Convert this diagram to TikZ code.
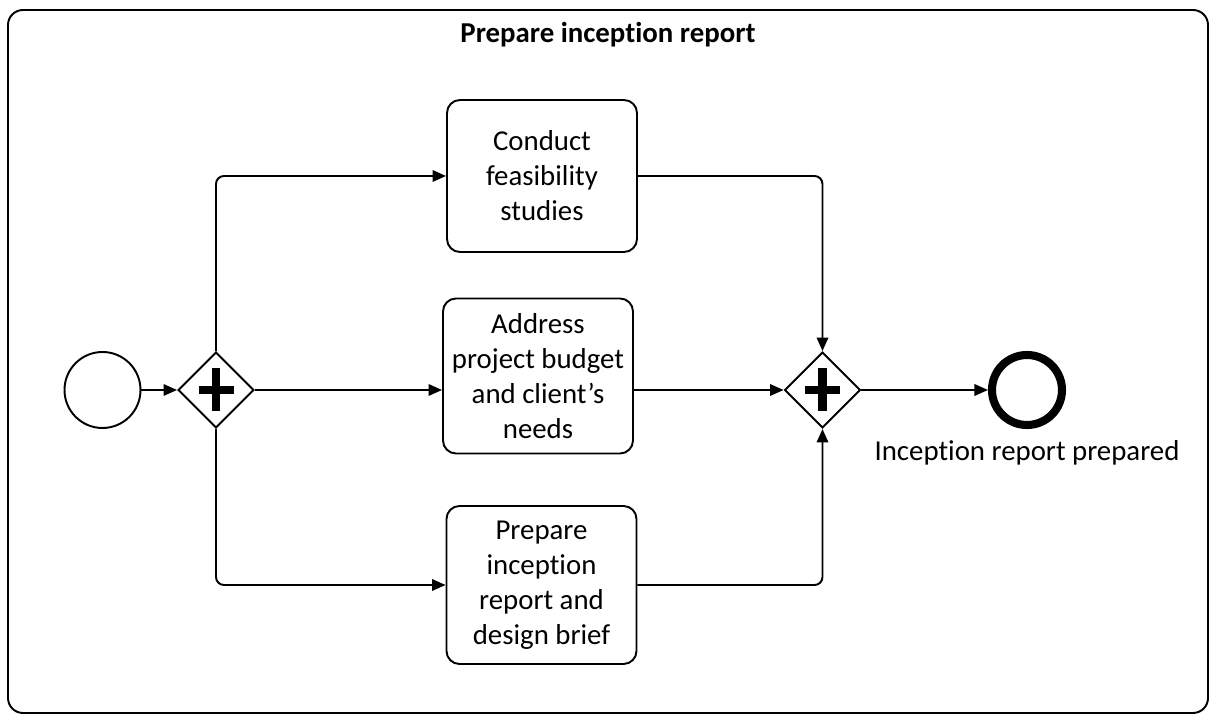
\documentclass[tikz,border=0pt]{standalone}
\usepackage{fontspec}
\setmainfont{Carlito}[Ligatures=NoCommon]
\usetikzlibrary{arrows.meta}
\usetikzlibrary{shapes.geometric}
\usetikzlibrary{positioning}

\tikzset{
  startevent/.style={circle,draw,line width=1.1pt,minimum size=1.52cm,inner sep=0pt},
  endevent/.style={circle,draw,line width=4.6pt,minimum size=1.4cm,inner sep=0pt},
  task/.style={rectangle,rounded corners=0.26cm,draw,line width=1.1pt,
    minimum width=3.8cm,minimum height=3.1cm,align=center,inner sep=2pt},
  andgate/.style={diamond,draw,line width=1.1pt,minimum size=1.52cm,inner sep=0pt,
    path picture={
      \fill ([xshift=-0.35cm,yshift=-0.085cm]path picture bounding box.center) rectangle ++(0.7cm,0.17cm);
      \fill ([xshift=-0.085cm,yshift=-0.43cm]path picture bounding box.center) rectangle ++(0.17cm,0.86cm);
    }},
  flow/.style={line width=1.1pt,rounded corners=0.16cm,
    -{Triangle[length=0.27cm,width=0.23cm]}}
}

\begin{document}
\begin{tikzpicture}[font=\fontsize{16.4}{19.9}\selectfont]
\useasboundingbox (0,0) rectangle (24.32,-14.3);
% sub-process frame
\draw[line width=1.1pt,rounded corners=0.3cm] (0.16,-0.2) rectangle (24.16,-14.26);
\node (title) at (12.16,-0.7) {\bfseries Prepare inception report};

\node (start) [startevent] at (2.05,-7.8) {};
\node (fork) [andgate] at (4.32,-7.8) {};
\node (feas) [task,minimum height=3.04cm] at (10.84,-3.52) {Conduct\\feasibility\\studies};
\node (budget) [task] at (10.76,-7.52) {Address\\project budget\\and client’s\\needs};
\node (brief) [task,minimum height=3.16cm] at (10.83,-11.7) {Prepare\\inception\\report and\\design brief};
\node (join) [andgate] at (16.45,-7.8) {};
\node (finish) [endevent] at (20.54,-7.8) {};
\node (finishlbl) at (20.54,-9.06) {Inception report prepared};

\draw[flow] (start) -- (fork);
\draw[flow] (fork.north) |- (feas.west);
\draw[flow] (fork.east) -- (fork.east -| budget.west);
\draw[flow] (fork.south) |- (brief.west);
\draw[flow] (feas.east) -| (join.north);
\draw[flow] (budget.east |- join.west) -- (join.west);
\draw[flow] (brief.east) -| (join.south);
\draw[flow] (join) -- (finish);
\end{tikzpicture}
\end{document}
